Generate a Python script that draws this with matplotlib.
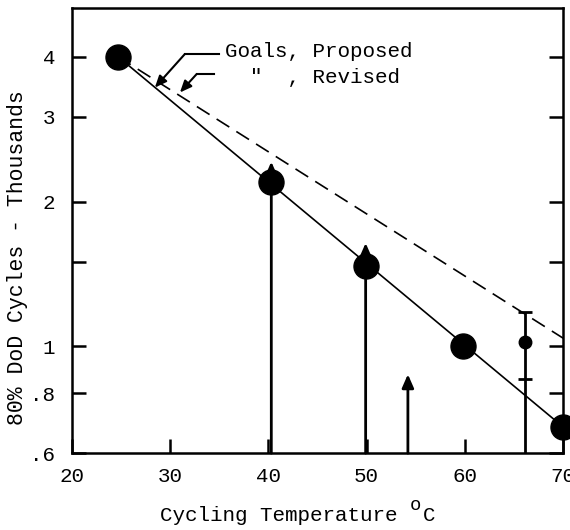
import numpy as np
import matplotlib
matplotlib.use("Agg")
import matplotlib.pyplot as plt
from matplotlib.ticker import FixedLocator, FixedFormatter, NullLocator

plt.rcParams['font.family'] = ['Liberation Mono', 'DejaVu Sans']

# measured points (big dots)
temps = [24.7, 40.3, 49.9, 59.8, 70.0]
cycles = [4.0, 2.2, 1.47, 1.0, 0.68]

# goal lines
proposed_x = [24.7, 70.0]
proposed_y = [4.0, 0.68]
revised_x = [24.7, 70.0]
revised_y = [4.0, 1.04]

# "still running" arrows
arrow_temps = [40.3, 49.9, 54.2]
arrow_tops = [2.42, 1.64, 0.875]

# small dot with range
small_temp = 66.1
small_val = 1.02
small_hi = 1.18
small_lo = 0.855

xticks = [20, 30, 40, 50, 60, 70]
yticks = [0.6, 0.8, 1.0, 1.5, 2.0, 3.0, 4.0]
ytick_labels = ['.6', '.8', '1', '', '2', '3', '4']

FS = 15

fig = plt.figure(figsize=(5.7, 5.3), dpi=100)
ax = fig.add_axes([0.126, 0.145, 0.862, 0.84])
ax.set_yscale('log')
ax.set_xlim(20, 70)
ax.set_ylim(0.6, 5.05)

ax.plot(proposed_x, proposed_y, color='black', lw=1.2)
ax.plot(revised_x, revised_y, color='black', lw=1.2, dashes=(9, 5))

for x, top in zip(arrow_temps, arrow_tops):
    ax.annotate('', xy=(x, top), xytext=(x, 0.6),
                arrowprops=dict(arrowstyle='-|>,head_width=0.35,head_length=0.8',
                                lw=2, color='black', shrinkA=0, shrinkB=0))

ax.plot(temps, cycles, 'o', color='black', ms=18, clip_on=False, zorder=5)

ax.vlines(small_temp, 0.6, small_hi, color='black', lw=2)
ax.plot([small_temp, small_temp], [small_hi, small_lo], '_', color='black', ms=10, mew=2)
ax.plot([small_temp], [small_val], 'o', color='black', ms=9)

# legend-like labels with bent arrows
ax.text(35.6, 4.1, 'Goals, Proposed', fontsize=FS, va='center', ha='left')
ax.text(35.6, 3.62, '  "  , Revised', fontsize=FS, va='center', ha='left')
ax.plot([35.0, 31.5], [4.05, 4.05], color='black', lw=1.5)
ax.annotate('', xy=(28.45, 3.45), xytext=(31.5, 4.05),
            arrowprops=dict(arrowstyle='-|>,head_width=0.3,head_length=0.7',
                            lw=1.5, color='black', shrinkA=0, shrinkB=0))
ax.plot([34.5, 32.7], [3.68, 3.68], color='black', lw=1.5)
ax.annotate('', xy=(31.0, 3.37), xytext=(32.7, 3.68),
            arrowprops=dict(arrowstyle='-|>,head_width=0.3,head_length=0.7',
                            lw=1.5, color='black', shrinkA=0, shrinkB=0))

ax.xaxis.set_major_locator(FixedLocator(xticks))
ax.yaxis.set_major_locator(FixedLocator(yticks))
ax.yaxis.set_major_formatter(FixedFormatter(ytick_labels))
ax.yaxis.set_minor_locator(NullLocator())

ax.tick_params(axis='both', direction='in', length=10, width=1.8, labelsize=FS)
ax.tick_params(axis='y', right=True, pad=12)
ax.tick_params(axis='x', pad=10)

for s in ax.spines.values():
    s.set_linewidth(1.8)

# x label with a raised degree "o"
fig.text(160 / 570, 9 / 530, 'Cycling Temperature', fontsize=FS,
         ha='left', va='baseline')
fig.text(410 / 570, 20 / 530, 'o', fontsize=13.5, ha='left', va='baseline')
fig.text(423 / 570, 9 / 530, 'C', fontsize=FS, ha='left', va='baseline')

ax.set_ylabel('80% DoD Cycles - Thousands', fontsize=15.5)
ax.yaxis.set_label_coords(-0.09, 0.44)

fig.savefig('out.png', dpi=100)
